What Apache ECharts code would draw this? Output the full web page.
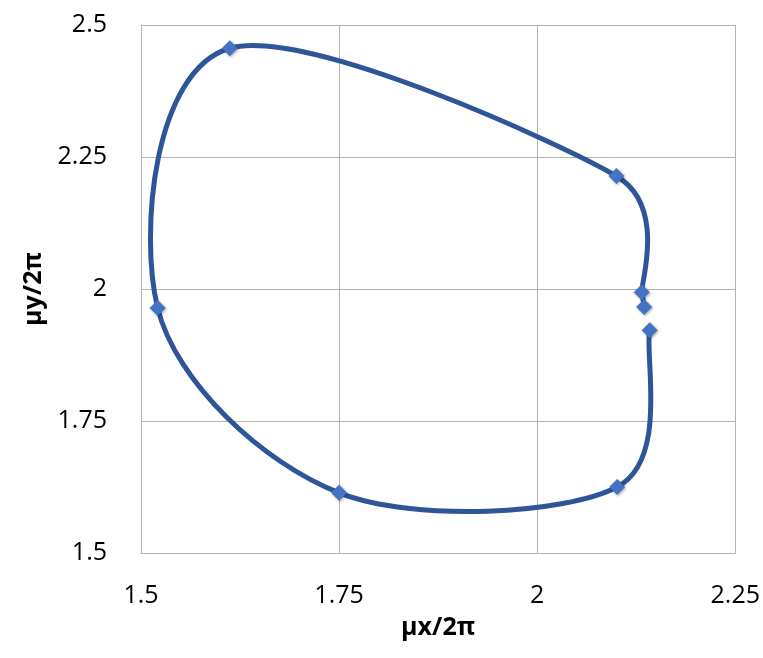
<!DOCTYPE html>
<html>
<head>
<meta charset="utf-8">
<script src="https://cdn.jsdelivr.net/npm/echarts@6/dist/echarts.min.js"></script>
<style>
html,body{margin:0;padding:0;background:#fff;}
#c{width:763px;height:658px;}
</style>
</head>
<body>
<div id="c"></div>
<script>
// Tune values, in drawing order (series starts at the lower of the two close right-side points)
const muX = [2.142, 2.101, 1.750, 1.521, 1.612, 2.100, 2.132, 2.135];
const muY = [1.922, 1.625, 1.614, 1.964, 2.456, 2.214, 1.994, 1.966];
const xTicks = [1.5, 1.75, 2, 2.25];
const yTicks = [1.5, 1.75, 2, 2.25, 2.5];
const xTitle = 'μx/2π';
const yTitle = 'μy/2π';

const pts = muX.map((x, i) => [x, muY[i]]);
const fmt = v => String(v);
const font = '"Open Sans", "Liberation Sans", sans-serif';
const gridColor = '#b3b3b3';
const lineColor = '#2E5597';

// Smoothed line through the data points (spreadsheet-style Bezier smoothing), in screen space via the axes
function renderCurve(params, api) {
  if (params.dataIndex !== 0) return null;
  const p = pts.map(d => api.coord(d));
  const n = p.length;
  const dist = (a, b) => Math.hypot(b[0] - a[0], b[1] - a[1]);
  // tangent (control offset) for each point
  const tan = p.map((pt, i) => {
    const a = p[Math.max(i - 1, 0)], b = p[Math.min(i + 1, n - 1)];
    const d02 = dist(a, b);
    if (d02 === 0) return [0, 0];
    const d01 = dist(a, pt), d12 = dist(pt, b);
    let L = d02 / 6;
    const lim = Math.min(d01 > 0 ? d01 : Infinity, d12 > 0 ? d12 : Infinity) / 2;
    if (L > lim) L = lim;
    return [(b[0] - a[0]) / d02 * L, (b[1] - a[1]) / d02 * L];
  });
  const children = [];
  for (let i = 0; i < n - 1; i++) {
    const p1 = p[i], p2 = p[i + 1];
    children.push({
      type: 'bezierCurve',
      shape: {
        x1: p1[0], y1: p1[1], x2: p2[0], y2: p2[1],
        cpx1: p1[0] + tan[i][0], cpy1: p1[1] + tan[i][1],
        cpx2: p2[0] - tan[i + 1][0], cpy2: p2[1] - tan[i + 1][1]
      },
      style: {stroke: lineColor, lineWidth: 5, fill: null, lineCap: 'round'}
    });
  }
  return {type: 'group', children};
}

const chart = echarts.init(document.getElementById('c'), null, {renderer: 'canvas'});
chart.setOption({
  backgroundColor: '#fff',
  animation: false,
  grid: {left: 141, right: 27, top: 25, bottom: 105, containLabel: false},
  xAxis: {
    type: 'value',
    min: xTicks[0], max: xTicks[xTicks.length - 1], interval: 0.25,
    name: xTitle, nameLocation: 'middle', nameGap: 62,
    nameTextStyle: {fontFamily: font, fontSize: 25, fontWeight: 'bold', color: '#000'},
    axisLine: {show: true, lineStyle: {color: gridColor, width: 1}},
    axisTick: {show: false},
    splitLine: {show: true, lineStyle: {color: gridColor, width: 1}},
    axisLabel: {fontFamily: font, fontSize: 25, color: '#000', margin: 30, formatter: fmt}
  },
  yAxis: {
    type: 'value',
    min: yTicks[0], max: yTicks[yTicks.length - 1], interval: 0.25,
    name: yTitle, nameLocation: 'middle', nameGap: 95,
    nameTextStyle: {fontFamily: font, fontSize: 25, fontWeight: 'bold', color: '#000'},
    axisLine: {show: true, lineStyle: {color: gridColor, width: 1}},
    axisTick: {show: false},
    splitLine: {show: true, lineStyle: {color: gridColor, width: 1}},
    axisLabel: {fontFamily: font, fontSize: 25, color: '#000', margin: 34, formatter: fmt}
  },
  series: [{
    type: 'custom',
    data: pts,
    renderItem: renderCurve,
    clip: false,
    z: 2
  }, {
    type: 'scatter',
    data: pts,
    symbol: 'diamond',
    symbolSize: 16,
    z: 3,
    itemStyle: {color: '#4472C4', opacity: 1, shadowBlur: 3, shadowColor: 'rgba(0,0,0,0.35)', shadowOffsetX: 1, shadowOffsetY: 1}
  }]
});
</script>
</body>
</html>
